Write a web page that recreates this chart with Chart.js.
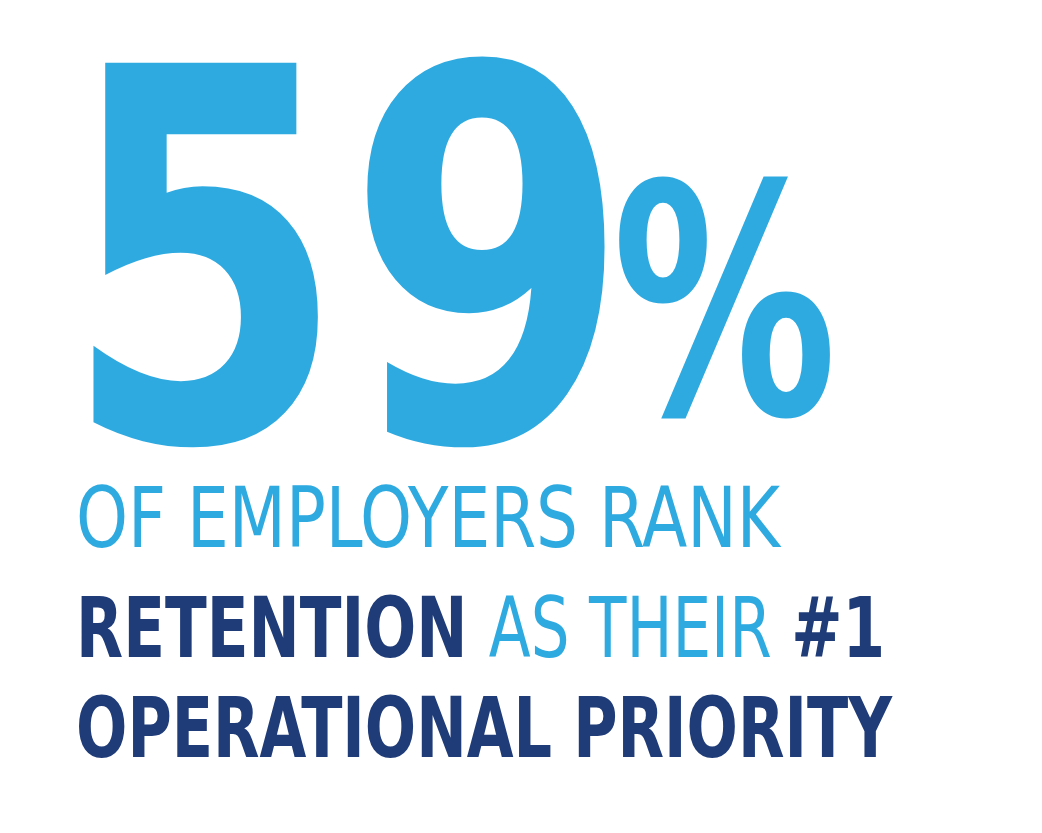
<!DOCTYPE html>
<html><head><meta charset="utf-8">
<script src="https://cdn.jsdelivr.net/npm/chart.js@4.4.1/dist/chart.umd.min.js"></script>
<style>
body{margin:0;background:#fff;width:1042px;height:833px;overflow:hidden;position:relative;font-family:"DejaVu Sans Condensed","DejaVu Sans",sans-serif}
#wrap{position:absolute;left:0;top:0;width:1042px;height:470px}
.line{position:absolute;left:76px;font-size:84px;line-height:1;white-space:nowrap;transform-origin:left top}
.lt{color:#2eaae1;font-weight:300;font-family:"DejaVu Sans Condensed";}
.dk{color:#1f3c78;font-weight:bold}
</style></head><body>
<div id="wrap"><canvas id="c"></canvas></div>
<div id="text"></div>
<script>
const statValue = [59];
const statSuffix = ['%'];
const lines = [
  [['OF EMPLOYERS RANK','lt']],
  [['RETENTION ','dk'],['AS THEIR ','lt'],['#1','dk']],
  [['OPERATIONAL PRIORITY','dk']]
];
const lineTops = [476, 586, 686];
const lineScales = [0.875, 0.81, 0.80];

const bigText = {
  id:'bigText',
  afterDraw(chart){
    const c = chart.ctx;
    c.save();
    c.fillStyle = '#2eaae1';
    c.textBaseline = 'alphabetic';
    c.save();
    c.translate(62, 440);
    c.scale(0.86, 0.98);
    c.font = 'bold 528px "DejaVu Sans Condensed"';
    c.fillText(String(chart.data.datasets[0].data[0]), 0, 0);
    c.restore();
    c.save();
    c.translate(612, 414);
    c.scale(0.78, 1);
    c.font = 'bold 320px "DejaVu Sans Condensed"';
    c.fillText(chart.data.labels[0], 0, 0);
    c.restore();
    c.restore();
  }
};

new Chart(document.getElementById('c'), {
  type:'bar',
  data:{labels:statSuffix, datasets:[{data:statValue, backgroundColor:'rgba(0,0,0,0)'}]},
  options:{responsive:true, maintainAspectRatio:false, animation:false,
    plugins:{legend:{display:false}, tooltip:{enabled:false}},
    scales:{x:{display:false}, y:{display:false}}},
  plugins:[bigText]
});

const tx = document.getElementById('text');
lines.forEach((parts,i)=>{
  const d = document.createElement('div');
  d.className='line';
  d.style.top = lineTops[i]+'px';
  d.style.transform='scaleX('+lineScales[i]+')';
  parts.forEach(([t,cls])=>{const s=document.createElement('span');s.className=cls;s.textContent=t;d.appendChild(s);});
  tx.appendChild(d);
});
</script></body></html>
